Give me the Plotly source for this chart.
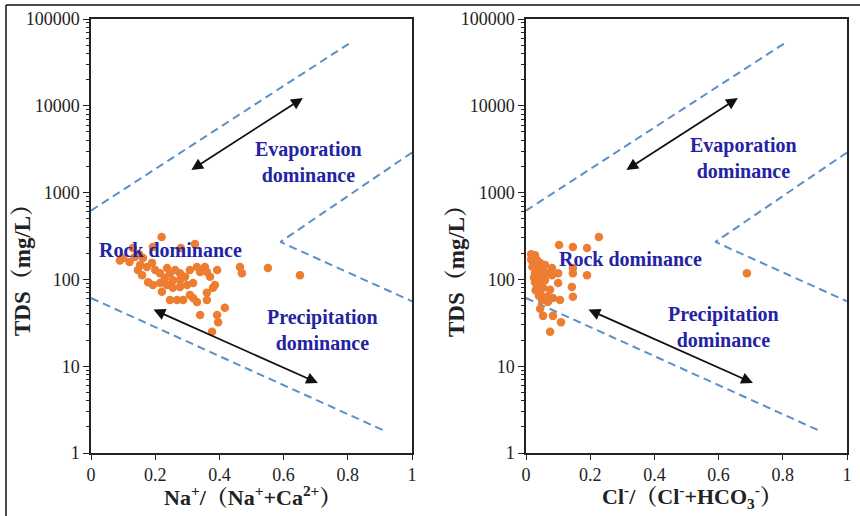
import plotly.graph_objects as go

# ---------------- data ----------------
na_ratio = [0.22, 0.324, 0.13, 0.193, 0.10, 0.12, 0.137, 0.162, 0.153, 0.174,
            0.19, 0.20, 0.146, 0.159, 0.215, 0.237, 0.246, 0.262, 0.277, 0.23,
            0.255, 0.277, 0.293, 0.308, 0.33, 0.34, 0.361, 0.355, 0.393, 0.371,
            0.464, 0.47, 0.551, 0.651, 0.178, 0.193, 0.215, 0.237, 0.255, 0.277,
            0.299, 0.318, 0.221, 0.246, 0.268, 0.287, 0.308, 0.318, 0.33, 0.361,
            0.361, 0.38, 0.386, 0.34, 0.393, 0.417, 0.396, 0.377, 0.09, 0.15, 0.28]
tds_na = [308, 256, 230, 236, 176, 159, 181, 176, 147, 139,
          155, 128, 128, 112, 118, 135, 118, 128, 118, 104,
          98, 98, 107, 128, 139, 122, 122, 139, 128, 107,
          139, 118, 135, 112, 93, 86, 91, 86, 80, 82,
          86, 91, 72, 58, 58, 58, 66, 61, 55, 58,
          70, 80, 86, 39, 39, 47, 32, 25, 165, 195, 230]

cl_ratio = [0.227, 0.103, 0.146, 0.19, 0.022, 0.016, 0.028, 0.034, 0.022, 0.044,
            0.059, 0.081, 0.10, 0.037, 0.065, 0.034, 0.059, 0.081, 0.034, 0.053,
            0.075, 0.044, 0.065, 0.084, 0.106, 0.05, 0.068, 0.034, 0.053, 0.028,
            0.053, 0.028, 0.044, 0.146, 0.146, 0.19, 0.10, 0.143, 0.146, 0.044,
            0.053, 0.084, 0.109, 0.075, 0.688, 0.016, 0.02, 0.025, 0.03, 0.04]
tds_cl = [308, 249, 236, 230, 186, 195, 190, 167, 155, 155,
          147, 135, 118, 122, 118, 104, 98, 112, 86, 80,
          76, 70, 63, 61, 58, 58, 55, 139, 128, 118,
          104, 93, 91, 135, 118, 112, 91, 82, 63, 46,
          38, 38, 32, 25, 118, 170, 140, 105, 75, 65]

# Gibbs boundary lines (x ratio, TDS mg/L)
upper_x = [0.0, 0.807]
upper_y = [620, 53000]
chev_x = [1.0, 0.59, 1.0]
chev_y = [2900, 270, 56]
lower_x = [0.0, 0.922]
lower_y = [61, 1.75]

x_ticks = [0, 0.2, 0.4, 0.6, 0.8, 1]
x_tick_text = ["0", "0.2", "0.4", "0.6", "0.8", "1"]
y_ticks = [1, 10, 100, 1000, 10000, 100000]
y_tick_text = ["1", "10", "100", "1000", "10000", "100000"]
y_minor = [m * 10 ** d for d in range(0, 5) for m in range(2, 10)]

x_titles = ["Na<sup>+</sup>/（Na<sup>+</sup>+Ca<sup>2+</sup>）",
            "Cl<sup>-</sup>/（Cl<sup>-</sup>+HCO<sub>3</sub><sup>-</sup>）"]
y_title = "TDS（mg/L）"

# ---------------- figure ----------------
SERIF = "Liberation Serif, Times New Roman, Noto Serif CJK SC, serif"
DASH_COLOR = "#5B8FC9"
DOT_COLOR = "#ED7D31"
TEXT_BLUE = "#2323A3"

fig = go.Figure()

panels = [("x", "y", na_ratio, tds_na), ("x2", "y2", cl_ratio, tds_cl)]
for xa, ya, xs, ys in panels:
    for lx, ly in [(upper_x, upper_y), (chev_x, chev_y), (lower_x, lower_y)]:
        fig.add_trace(go.Scatter(x=lx, y=ly, mode="lines", xaxis=xa, yaxis=ya,
                                 line=dict(color=DASH_COLOR, width=2, dash="8px,5px"),
                                 showlegend=False, hoverinfo="skip"))
    fig.add_trace(go.Scatter(x=xs, y=ys, mode="markers", xaxis=xa, yaxis=ya,
                             marker=dict(color=DOT_COLOR, size=8.5, line=dict(width=0)),
                             showlegend=False))

y_dom = [1 - 453 / 516, 1 - 19 / 516]
x_doms = [[91 / 860, 412 / 860], [526 / 860, 847 / 860]]

axis_common = dict(showgrid=False, zeroline=False, showline=True, linecolor="#222",
                   linewidth=1.5, mirror=True, ticks="outside", tickcolor="#222",
                   automargin=False,
                   tickfont=dict(family=SERIF, size=18, color="#222"))

for i, (xa, ya) in enumerate([("xaxis", "yaxis"), ("xaxis2", "yaxis2")]):
    sfx = "" if i == 0 else "2"
    fig.update_layout({
        xa: dict(axis_common, domain=x_doms[i], range=[0, 1], anchor="y" + sfx,
                 tickvals=x_ticks, ticktext=x_tick_text, ticklen=5),
        ya: dict(axis_common, domain=y_dom, type="log", range=[0, 5], anchor="x" + sfx,
                 tickvals=y_ticks, ticktext=y_tick_text, ticklen=6,
                 minor=dict(tickvals=y_minor, ticks="outside", ticklen=3,
                            tickcolor="#222", showgrid=False)),
    })

ann = []
label_font = dict(family=SERIF, size=20, color=TEXT_BLUE)
# region labels: (xref, yref, x, log10 y, text)
labels = [
    ("x", "y", 0.676, 3.353, "<b>Evaporation<br>dominance</b>"),
    ("x", "y", 0.249, 2.339, "<b>Rock dominance</b>"),
    ("x", "y", 0.72, 1.417, "<b>Precipitation<br>dominance</b>"),
    ("x2", "y2", 0.679, 3.40, "<b>Evaporation<br>dominance</b>"),
    ("x2", "y2", 0.327, 2.235, "<b>Rock dominance</b>"),
    ("x2", "y2", 0.614, 1.452, "<b>Precipitation<br>dominance</b>"),
]
for xr, yr, x, y, t in labels:
    ann.append(dict(xref=xr, yref=yr, x=x, y=y, text=t, showarrow=False,
                    font=label_font, align="center"))

# double-headed arrows (head x, head log y, tail x, tail log y)
arrows = [(0.66, 4.09, 0.308, 3.25), (0.707, 0.806, 0.19, 1.66)]
for xr, yr in [("x", "y"), ("x2", "y2")]:
    for hx, hy, tx, ty in arrows:
        ann.append(dict(xref=xr, yref=yr, x=hx, y=hy, axref=xr, ayref=yr, ax=tx, ay=ty,
                        text="", showarrow=True, arrowhead=2, arrowside="end+start",
                        arrowsize=1.3, arrowwidth=1.8, arrowcolor="#111"))

# axis titles
title_font = dict(family=SERIF, size=22, color="#222")
for px, t in [(252 / 860, x_titles[0]), (692 / 860, x_titles[1])]:
    ann.append(dict(xref="paper", yref="paper", x=px, y=1 - 496 / 516, text="<b>" + t + "</b>",
                    showarrow=False, font=title_font, xanchor="center", yanchor="middle"))
for px in [22 / 860, 456 / 860]:
    ann.append(dict(xref="paper", yref="paper", x=px, y=1 - 265 / 516, text="<b>" + y_title + "</b>",
                    showarrow=False, font=dict(title_font, size=23), textangle=-90,
                    xanchor="center", yanchor="middle"))

fig.update_layout(
    width=860, height=516, margin=dict(l=0, r=0, t=0, b=0),
    paper_bgcolor="white", plot_bgcolor="white",
    annotations=ann,
    shapes=[
        dict(type="line", xref="paper", yref="paper", x0=6 / 860, x1=6 / 860, y0=0, y1=1 - 5 / 516,
             line=dict(color="#111", width=1.5)),
        dict(type="line", xref="paper", yref="paper", x0=6 / 860, x1=1, y0=1 - 5 / 516, y1=1 - 5 / 516,
             line=dict(color="#111", width=1.5)),
    ],
)

fig.write_html("out.html", config={"displayModeBar": False},
               post_script="document.body.style.margin='0';document.body.style.overflow='hidden';")
